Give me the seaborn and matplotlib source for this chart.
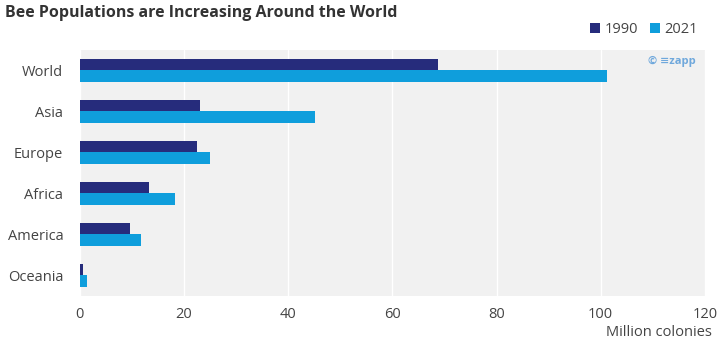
import numpy as np
import pandas as pd
import matplotlib
matplotlib.use("Agg")
import matplotlib.pyplot as plt
import seaborn as sns

regions = ["World", "Asia", "Europe", "Africa", "America", "Oceania"]
colonies_1990 = [68.8, 23.0, 22.4, 13.2, 9.6, 0.6]
colonies_2021 = [101.2, 45.2, 24.9, 18.2, 11.7, 1.3]
years = ["1990", "2021"]

df = pd.DataFrame({
    "region": regions * 2,
    "value": colonies_1990 + colonies_2021,
    "year": [years[0]] * len(regions) + [years[1]] * len(regions),
})

sns.set_style("white")
plt.rcParams['font.family'] = ['Open Sans', 'DejaVu Sans']

fig = plt.figure(figsize=(7.2, 3.54), dpi=100)
ax = fig.add_axes([0.111, 0.164, 0.868, 0.695])
ax.set_facecolor("#f1f1f1")

palette = {"1990": "#262c7c", "2021": "#0f9edc"}
sns.barplot(data=df, y="region", x="value", hue="year", orient="h",
            palette=palette, width=0.58, saturation=1, linewidth=0,
            ax=ax, legend=True)

ax.set_xlim(0, 120)
ax.set_xticks(np.arange(0, 121, 20))
ax.xaxis.grid(True, color="white", linewidth=1.0)
ax.set_axisbelow(True)
for s in ax.spines.values():
    s.set_visible(False)
ax.set_xlabel("")
ax.set_ylabel("")
ax.tick_params(axis="both", length=0, labelsize=10.5, colors="#444444")
ax.tick_params(axis="x", pad=8)
ax.tick_params(axis="y", pad=12)

ax.legend(loc="lower right", bbox_to_anchor=(1.005, 1.01), ncol=2, frameon=False,
          handlelength=0.7, handleheight=0.7, handletextpad=0.3, columnspacing=0.8,
          fontsize=10.5, labelcolor="#444444", borderaxespad=0.3)

ax.text(0.985, 0.955, "© ≡zapp", transform=ax.transAxes, ha="right", va="center",
        fontsize=8, color="#6fa8dc", fontweight="bold")

fig.text(0.989, 0.04, "Million colonies", ha="right", va="bottom",
         fontsize=10.5, color="#444444")
fig.text(0.007, 0.962, "Bee Populations are Increasing Around the World",
         ha="left", va="center", fontsize=11.5, fontweight="bold", color="#333333")

fig.savefig("out.png", dpi=100)
